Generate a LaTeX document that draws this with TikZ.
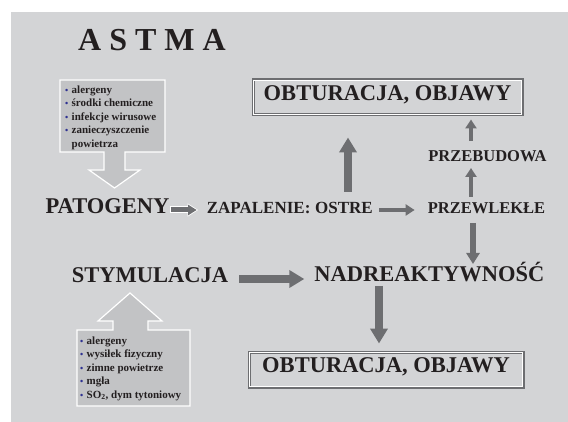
\documentclass[tikz,border=0pt]{standalone}
\usepackage{fontspec}
\setmainfont{Liberation Serif}
\usetikzlibrary{arrows.meta}
\definecolor{tlo}{HTML}{D3D4D6}
\definecolor{ramka}{HTML}{C2C3C5}
\definecolor{strz}{HTML}{6D6E71}
\definecolor{kropka}{HTML}{2E3192}
\definecolor{tekst}{HTML}{231F20}
\newcommand{\pkt}{\makebox[6.5pt][l]{\color{kropka}\fontsize{9}{9}\selectfont •}}

\begin{document}
\begin{tikzpicture}[x=1pt,y=-1pt,
	duzy/.style={font=\fontsize{22.5}{24}\selectfont\bfseries,text=tekst,inner sep=0pt,text height=0.66em,text depth=0pt},
	sredni/.style={font=\fontsize{16.5}{18}\selectfont\bfseries,text=tekst,inner sep=0pt,text height=0.66em,text depth=0pt},
	lista/.style={font=\fontsize{11}{13.5}\selectfont\bfseries,text=tekst,inner sep=0pt,align=left,anchor=north west},
	obt/.style={duzy,draw=strz,line width=3pt,minimum width=#1,minimum height=35pt},
	mala/.style={strz,line width=4.5pt,-{Triangle[width=11pt,length=9pt]}},
	srednia/.style={strz,line width=6pt,-{Triangle[width=13pt,length=11pt]}},
	duza/.style={strz,line width=8.5pt,-{Triangle[width=17pt,length=15pt]}}]
	\useasboundingbox (0,0) rectangle (568,422);
	\fill[white] (0,0) rectangle (568,422);
	\fill[tlo] (11,12) rectangle (568,422);
	% pola z czynnikami
	\filldraw[fill=ramka,draw=white,line width=1.2pt] (60,80)--(165,80)--(165,152)--(125,152)--(125,170)--(140,170)--(114.5,188)--(89,170)--(104,170)--(104,152)--(60,152)--cycle;
	\filldraw[fill=ramka,draw=white,line width=1.2pt] (77,406)--(77,330)--(113,330)--(113,321)--(98,321)--(130,293)--(162,321)--(148,321)--(148,330)--(190,330)--(190,406)--cycle;
	\node[lista] (czynniki1) at (65,85.5) {\pkt alergeny\\\pkt środki chemiczne\\\pkt infekcje wirusowe\\\pkt zanieczyszczenie\\\hspace*{6.5pt}powietrza};
	\node[lista] (czynniki2) at (80,336.5) {\pkt alergeny\\\pkt wysiłek fizyczny\\\pkt zimne powietrze\\\pkt mgła\\\pkt SO\textsubscript{2}, dym tytoniowy};
	% napisy
	\node[font=\fontsize{32}{34}\selectfont\bfseries,text=tekst,inner sep=0pt,text height=0.66em,text depth=0pt] (astma) at (152,47.5) {A S T M A};
	\node[obt=269pt] (obt1) at (387.5,97.5) {OBTURACJA, OBJAWY};
	\node[obt=274pt] (obt2) at (386,369.5) {OBTURACJA, OBJAWY};
	\foreach \n in {obt1,obt2}
	\draw[white,line width=0.7pt] ([shift={(1.9pt,-1.9pt)}]\n.north west) rectangle ([shift={(-1.9pt,1.9pt)}]\n.south east);
	\node[duzy] (patogeny) at (107.5,210) {PATOGENY};
	\node[sredni,font=\fontsize{17}{18}\selectfont\bfseries,anchor=east] (ostre) at (373,210) {OSTRE};
	\node[sredni,font=\fontsize{17}{18}\selectfont\bfseries,anchor=east] (zapalenie) at ([xshift=-4.3pt]ostre.west) {ZAPALENIE:};
	\node[sredni] (przewlekle) at (486.5,210) {PRZEWLEKŁE};
	\node[sredni] (przebudowa) at (487.5,158) {PRZEBUDOWA};
	\node[duzy] (stymulacja) at (150,279) {STYMULACJA};
	\node[duzy] (nadreakt) at (429.5,278) {NADREAKTYWNOŚĆ};
	% strzalki
	\coordinate (xo) at (348,0);
	\coordinate (xp) at (471,0);
	\coordinate (xr) at (473,0);
	\coordinate (xn) at (379,0);
	\draw[white,line width=7pt,-{Triangle[width=12.5pt,length=10.5pt]},shorten >=8.5pt] (patogeny.east)--(zapalenie.west);
	\draw[strz,line width=5pt,-{Triangle[width=10pt,length=8.5pt]},shorten <=1pt,shorten >=10pt] (patogeny.east)--(zapalenie.west);
	\draw[mala,shorten <=6pt,shorten >=13pt] (ostre.east)--(przewlekle.west);
	\draw[mala,shorten <=9.5pt,shorten >=6.5pt] (przewlekle.north -| xp)--(przebudowa.south -| xp);
	\draw[mala,shorten <=13.5pt,shorten >=3pt] (przebudowa.north -| xp)--(obt1.south -| xp);
	\draw[duza,shorten <=14.5pt,shorten >=21pt] (ostre.north -| xo)--(obt1.south -| xo);
	\draw[srednia,shorten <=9.5pt,shorten >=10.5pt] (przewlekle.south -| xr)--(nadreakt.north -| xr);
	\draw[duza,shorten <=11pt,shorten >=10pt] (stymulacja.east)--(stymulacja.east -| nadreakt.west);
	\draw[duza,shorten <=4.5pt,shorten >=7pt] (nadreakt.south -| xn)--(obt2.north -| xn);
\end{tikzpicture}
\end{document}
